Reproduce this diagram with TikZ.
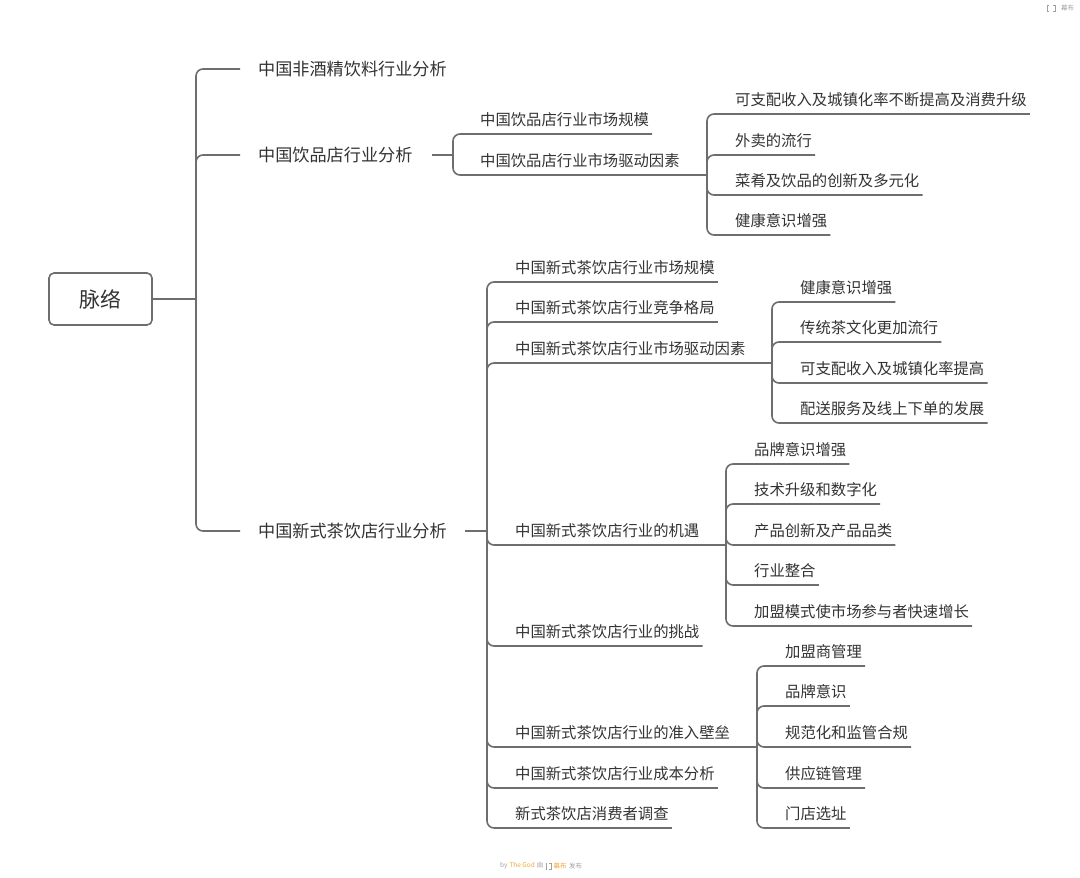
\documentclass[tikz,border=0pt]{standalone}
\usepackage{fontspec}
\newfontfamily\cjk{Noto Sans CJK SC}
\definecolor{ln}{HTML}{6E6E6E}
\definecolor{tx}{HTML}{333333}
\definecolor{ft}{HTML}{A0A0A0}
\definecolor{orr}{HTML}{F0A830}
\begin{document}
\begin{tikzpicture}[x=1bp,y=-1bp,
  lnk/.style={draw=ln, line width=1.6bp, rounded corners=7bp},
  lvone/.style={font=\cjk\fontsize{17.2}{20}\selectfont, text=tx, anchor=west, inner sep=0pt},
  lvtwo/.style={font=\cjk\fontsize{15.4}{18}\selectfont, text=tx, anchor=base west, inner xsep=3bp, inner ysep=0pt},
  rootbox/.style={draw=ln, line width=1.6bp, rounded corners=5bp, minimum width=103bp, minimum height=52bp, font=\cjk\fontsize{21}{24}\selectfont, text=tx},
  tiny/.style={font=\cjk\fontsize{6.5}{8}\selectfont, inner sep=0pt, anchor=west}
]
\fill[white] (0,0) rectangle (1080,878);
\useasboundingbox (0,0) rectangle (1080,878);

% root
\node[rootbox] (root) at (100.5,299) {脉络};
\coordinate (j0) at (196,299);
\draw[lnk] (root.east) -- (j0);

% level 1
\node[lvone] (b1) at (258,69) {中国非酒精饮料行业分析};
\node[lvone] (b2) at (258,155) {中国饮品店行业分析};
\node[lvone] (b3) at (258,531) {中国新式茶饮店行业分析};
\draw[lnk] (j0) |- ([xshift=-18bp]b1.west);
\draw[lnk] (j0) |- ([xshift=-18bp]b2.west);
\draw[lnk] (j0) |- ([xshift=-18bp]b3.west);

% 饮品店
\coordinate (j1) at (453,155);
\draw[lnk] ([xshift=19bp]b2.east) -- (j1);
\node[lvtwo] (c1) at (477,125) {中国饮品店行业市场规模};
\node[lvtwo] (c2) at (477,166) {中国饮品店行业市场驱动因素};
\coordinate (j2) at (707,175);
\draw[lnk] (j1) |- ([yshift=-9bp]c1.base east);
\draw[lnk] (j1) |- (j2);

\node[lvtwo] (d1) at (732,105) {可支配收入及城镇化率不断提高及消费升级};
\node[lvtwo] (d2) at (732,146) {外卖的流行};
\node[lvtwo] (d3) at (732,186) {菜肴及饮品的创新及多元化};
\node[lvtwo] (d4) at (732,226) {健康意识增强};
\foreach \n in {d1,d2,d3,d4} \draw[lnk] (j2) |- ([yshift=-9bp]\n.base east);

% 新式茶饮
\coordinate (j3) at (487,531);
\draw[lnk] ([xshift=18bp]b3.east) -- (j3);
\node[lvtwo] (e1) at (512,273) {中国新式茶饮店行业市场规模};
\node[lvtwo] (e2) at (512,313) {中国新式茶饮店行业竞争格局};
\node[lvtwo] (e3) at (512,354) {中国新式茶饮店行业市场驱动因素};
\node[lvtwo] (e4) at (512,536) {中国新式茶饮店行业的机遇};
\node[lvtwo] (e5) at (512,637) {中国新式茶饮店行业的挑战};
\node[lvtwo] (e6) at (512,738) {中国新式茶饮店行业的准入壁垒};
\node[lvtwo] (e7) at (512,779) {中国新式茶饮店行业成本分析};
\node[lvtwo] (e8) at (512,819) {新式茶饮店消费者调查};
\coordinate (j4) at (772,363);
\coordinate (j5) at (726,545);
\coordinate (j6) at (757,747);
\foreach \n in {e1,e2,e5,e7,e8} \draw[lnk] (j3) |- ([yshift=-9bp]\n.base east);
\draw[lnk] (j3) |- (j4);
\draw[lnk] (j3) |- (j5);
\draw[lnk] (j3) |- (j6);

% 茶饮驱动因素
\node[lvtwo] (f1) at (797,293) {健康意识增强};
\node[lvtwo] (f2) at (797,333) {传统茶文化更加流行};
\node[lvtwo] (f3) at (797,374) {可支配收入及城镇化率提高};
\node[lvtwo] (f4) at (797,414) {配送服务及线上下单的发展};
\foreach \n in {f1,f2,f3,f4} \draw[lnk] (j4) |- ([yshift=-9bp]\n.base east);

% 机遇
\node[lvtwo] (g1) at (751,455) {品牌意识增强};
\node[lvtwo] (g2) at (751,495) {技术升级和数字化};
\node[lvtwo] (g3) at (751,536) {产品创新及产品品类};
\node[lvtwo] (g4) at (751,576) {行业整合};
\node[lvtwo] (g5) at (751,617) {加盟模式使市场参与者快速增长};
\foreach \n in {g1,g2,g3,g4,g5} \draw[lnk] (j5) |- ([yshift=-9bp]\n.base east);

% 准入壁垒
\node[lvtwo] (h1) at (782,657) {加盟商管理};
\node[lvtwo] (h2) at (782,697) {品牌意识};
\node[lvtwo] (h3) at (782,738) {规范化和监管合规};
\node[lvtwo] (h4) at (782,779) {供应链管理};
\node[lvtwo] (h5) at (782,819) {门店选址};
\foreach \n in {h1,h2,h3,h4,h5} \draw[lnk] (j6) |- ([yshift=-9bp]\n.base east);

% footer
\node[tiny] (fa) at (500,866) {\textcolor{ft}{by}\hspace{2bp}\textcolor{orr}{The God}\hspace{2bp}\textcolor{ft}{由}};
\node[tiny, text=orr] (fb) at ([xshift=10bp]fa.east) {幕布};
\node[tiny, text=ft] (fc) at ([xshift=2bp]fb.east) {发布};
\coordinate (ic) at ([xshift=5bp]fa.east);
\draw[ft, line width=0.5bp] ([xshift=-1bp,yshift=3bp]ic) -- ++(-1.5bp,0) -- ++(0,-6bp) -- ++(1.5bp,0)
  ([xshift=1bp,yshift=3bp]ic) -- ++(1.5bp,0) -- ++(0,-6bp) -- ++(-1.5bp,0);
% top right mark
\node[tiny, text=ft] (mark) at (1061,8) {幕布};
\coordinate (ic2) at ([xshift=-10bp]mark.west);
\draw[ft, line width=0.6bp] ([xshift=-2bp,yshift=3bp]ic2) -- ++(-2bp,0) -- ++(0,-6bp) -- ++(2bp,0)
  ([xshift=2bp,yshift=3bp]ic2) -- ++(2bp,0) -- ++(0,-6bp) -- ++(-2bp,0);
\end{tikzpicture}
\end{document}
